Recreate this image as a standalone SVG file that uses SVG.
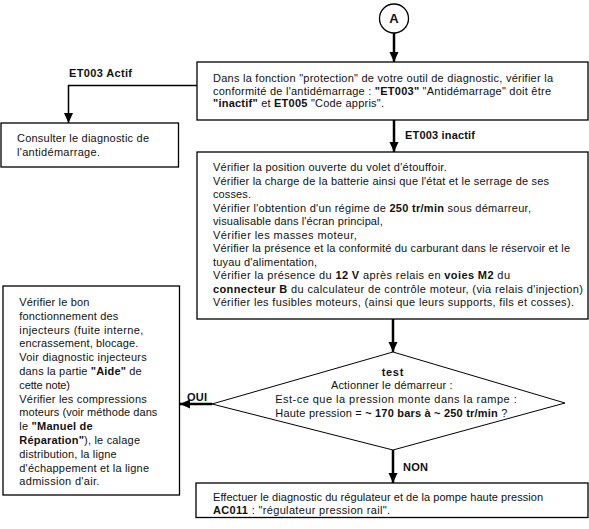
<svg xmlns="http://www.w3.org/2000/svg" width="589" height="529" viewBox="0 0 589 529">
<defs>
<style>
text{font-family:"Liberation Sans",Arial,sans-serif;font-size:11px;fill:#111}
.b{font-weight:bold}
.box{fill:#fff;stroke:#000;stroke-width:1.3}
.c{fill:none;stroke:#000;stroke-width:2.5}
.ct{fill:none;stroke:#000;stroke-width:1.5}
.mid{text-anchor:middle}
</style>
<marker id="ah" markerWidth="10" markerHeight="10" refX="10" refY="5" orient="auto" markerUnits="userSpaceOnUse" viewBox="0 0 10 10"><path d="M0,0.5 L10,5 L0,9.5 z" fill="#000"/></marker>
</defs>
<rect width="589" height="529" fill="#fff"/>
<g id="connectors">
<line class="c" x1="394" y1="33" x2="394" y2="62" marker-end="url(#ah)"/>
<polyline class="ct" points="197,85.5 68.5,85.5 68.5,123" marker-end="url(#ah)"/>
<line class="c" x1="394" y1="120" x2="394" y2="152" marker-end="url(#ah)"/>
<line class="c" x1="393" y1="319" x2="393" y2="352" marker-end="url(#ah)"/>
<line class="c" x1="212" y1="404" x2="180" y2="404" marker-end="url(#ah)"/>
<line class="c" x1="393" y1="450" x2="393" y2="483" marker-end="url(#ah)"/>
<text class="b" x="69" y="77" textLength="63" lengthAdjust="spacing">ET003 Actif</text>
<text class="b" x="405" y="139" textLength="70" lengthAdjust="spacing">ET003 inactif</text>
<text class="b" x="187" y="401" textLength="20" lengthAdjust="spacing">OUI</text>
<text class="b" x="403" y="471" textLength="25" lengthAdjust="spacing">NON</text>
</g>
<g id="start">
<circle cx="394" cy="18.5" r="14.5" fill="#fff" stroke="#000" stroke-width="1.3"/>
<text class="b mid" x="394" y="23" style="font-size:13px">A</text>
</g>
<g id="check-antidemarrage">
<rect class="box" x="197" y="62" width="391" height="58"/>
<text x="213" y="82" textLength="340" lengthAdjust="spacing">Dans la fonction "protection" de votre outil de diagnostic, vérifier la</text>
<text x="213" y="94.5" textLength="338" lengthAdjust="spacing">conformité de l'antidémarrage : <tspan class="b">"ET003"</tspan> "Antidémarrage" doit être</text>
<text x="213" y="107" textLength="171" lengthAdjust="spacing"><tspan class="b">"inactif"</tspan> et <tspan class="b">ET005</tspan> "Code appris".</text>
</g>
<g id="consult-antidemarrage">
<rect class="box" x="1" y="123" width="177.5" height="44"/>
<text x="17" y="142" textLength="132" lengthAdjust="spacing">Consulter le diagnostic de</text>
<text x="17" y="156" textLength="83" lengthAdjust="spacing">l'antidémarrage.</text>
</g>
<g id="verifications">
<rect class="box" x="197" y="152" width="391" height="167"/>
<text x="213" y="171" textLength="233.7" lengthAdjust="spacing">Vérifier la position ouverte du volet d'étouffoir.</text>
<text x="213" y="184.5" textLength="336" lengthAdjust="spacing">Vérifier la charge de la batterie ainsi que l'état et le serrage de ses</text>
<text x="213" y="198" textLength="38" lengthAdjust="spacing">cosses.</text>
<text x="213" y="211.5" textLength="318" lengthAdjust="spacing">Vérifier l'obtention d'un régime de <tspan class="b">250 tr/min</tspan> sous démarreur,</text>
<text x="213" y="225" textLength="169.7" lengthAdjust="spacing">visualisable dans l'écran principal,</text>
<text x="213" y="238.5" textLength="143.7" lengthAdjust="spacing">Vérifier les masses moteur,</text>
<text x="213" y="252" textLength="357" lengthAdjust="spacing">Vérifier la présence et la conformité du carburant dans le réservoir et le</text>
<text x="213" y="265.5" textLength="104" lengthAdjust="spacing">tuyau d'alimentation,</text>
<text x="213" y="279" textLength="297" lengthAdjust="spacing">Vérifier la présence du <tspan class="b">12 V</tspan> après relais en <tspan class="b">voies M2</tspan> du</text>
<text x="213" y="292.5" textLength="370" lengthAdjust="spacing"><tspan class="b">connecteur B</tspan> du calculateur de contrôle moteur, (via relais d'injection)</text>
<text x="213" y="306" textLength="361" lengthAdjust="spacing">Vérifier les fusibles moteurs, (ainsi que leurs supports, fils et cosses).</text>
</g>
<g id="test">
<polygon points="393,352 565,403 393,450 212,404" fill="#fff" stroke="#000" stroke-width="1"/>
<text class="b mid" x="392.5" y="375.5" textLength="21.6" lengthAdjust="spacing">test</text>
<text class="mid" x="391.8" y="389.3" textLength="121.7" lengthAdjust="spacing">Actionner le démarreur :</text>
<text class="mid" x="396" y="403" textLength="241.4" lengthAdjust="spacing">Est-ce que la pression monte dans la rampe :</text>
<text class="mid" x="391.3" y="416.8" textLength="232" lengthAdjust="spacing">Haute pression = <tspan class="b">~ 170 bars à ~ 250 tr/min</tspan> ?</text>
</g>
<g id="injecteurs">
<rect class="box" x="3" y="286" width="176.5" height="209"/>
<text x="19.3" y="306" textLength="70" lengthAdjust="spacing">Vérifier le bon</text>
<text x="19.3" y="319.8" textLength="99" lengthAdjust="spacing">fonctionnement des</text>
<text x="19.3" y="333.6" textLength="124" lengthAdjust="spacing">injecteurs (fuite interne,</text>
<text x="19.3" y="347.4" textLength="119" lengthAdjust="spacing">encrassement, blocage.</text>
<text x="19.3" y="361.2" textLength="127.4" lengthAdjust="spacing">Voir diagnostic injecteurs</text>
<text x="19.3" y="375" textLength="122.4" lengthAdjust="spacing">dans la partie <tspan class="b">"Aide"</tspan> de</text>
<text x="19.3" y="388.8" textLength="50.7" lengthAdjust="spacing">cette note)</text>
<text x="19.3" y="402.6" textLength="127.4" lengthAdjust="spacing">Vérifier les compressions</text>
<text x="19.3" y="416.4" textLength="138" lengthAdjust="spacing">moteurs (voir méthode dans</text>
<text x="19.3" y="430.2" textLength="73.4" lengthAdjust="spacing">le <tspan class="b">"Manuel de</tspan></text>
<text x="19.3" y="444" textLength="120.7" lengthAdjust="spacing"><tspan class="b">Réparation"</tspan>), le calage</text>
<text x="19.3" y="457.8" textLength="97.4" lengthAdjust="spacing">distribution, la ligne</text>
<text x="19.3" y="471.6" textLength="129.7" lengthAdjust="spacing">d'échappement et la ligne</text>
<text x="19.3" y="485.4" textLength="80" lengthAdjust="spacing">admission d'air.</text>
</g>
<g id="regulateur">
<rect class="box" x="196" y="483" width="392" height="34.5"/>
<text x="213" y="500.7" textLength="330" lengthAdjust="spacing">Effectuer le diagnostic du régulateur et de la pompe haute pression</text>
<text x="213" y="514" textLength="177" lengthAdjust="spacing"><tspan class="b">AC011</tspan> : "régulateur pression rail".</text>
</g>
</svg>
